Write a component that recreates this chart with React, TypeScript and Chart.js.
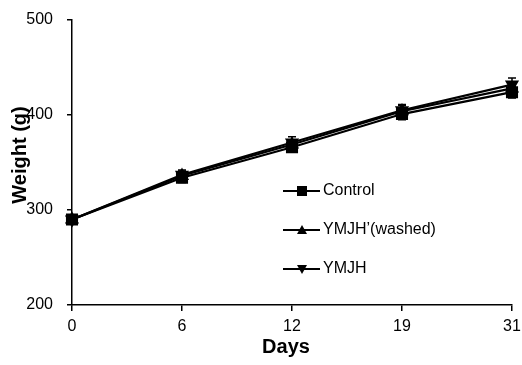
import React, { useEffect, useRef } from "react";
import { Chart, registerables } from "chart.js";

Chart.register(...registerables);

const days = ["0", "6", "12", "19", "31"];
const controlValues = [290, 334, 366, 401, 424];
const washedValues = [290, 336, 369, 404, 428];
const ymjhValues = [290, 337, 371, 405, 432];
const controlErr = [4, 5, 5, 6, 6];
const washedErr = [4, 5, 5, 6, 6];
const ymjhErr = [4, 5, 6, 6, 7];
const seriesLabels = ["Control", "YMJH\u2019(washed)", "YMJH"];
const yTicks = [200, 300, 400, 500];
const xTitle = "Days";
const yTitle = "Weight (g)";

const FONT = "'Liberation Sans', Arial, sans-serif";

const errorBarPlugin = {
  id: "errorBars",
  afterDatasetsDraw(chart: any) {
    const ctx = chart.ctx;
    const yScale = chart.scales.y;
    chart.data.datasets.forEach((ds: any, i: number) => {
      const meta = chart.getDatasetMeta(i);
      const errs: number[] = ds.errors || [];
      meta.data.forEach((pt: any, j: number) => {
        const v = ds.data[j];
        const e = errs[j] || 0;
        const yTop = yScale.getPixelForValue(v + e);
        const yBot = yScale.getPixelForValue(v - e);
        ctx.save();
        ctx.strokeStyle = "#000";
        ctx.lineWidth = 1.5;
        ctx.beginPath();
        ctx.moveTo(pt.x, yTop);
        ctx.lineTo(pt.x, yBot);
        ctx.moveTo(pt.x - 4, yTop);
        ctx.lineTo(pt.x + 4, yTop);
        ctx.moveTo(pt.x - 4, yBot);
        ctx.lineTo(pt.x + 4, yBot);
        ctx.stroke();
        ctx.restore();
      });
    });
  },
};

const titlesPlugin = {
  id: "titles",
  afterDraw(chart: any) {
    const ctx = chart.ctx;
    ctx.save();
    ctx.fillStyle = "#000";
    ctx.font = `bold 20px ${FONT}`;
    ctx.textAlign = "center";
    ctx.textBaseline = "middle";
    ctx.fillText(xTitle, 286, 347);
    ctx.translate(20, 155);
    ctx.rotate(-Math.PI / 2);
    ctx.fillText(yTitle, 0, 0);
    ctx.restore();
  },
};

const customLegendPlugin = {
  id: "customLegend",
  afterDraw(chart: any) {
    const ctx = chart.ctx;
    const x0 = 283;
    const x1 = 320;
    const ys = [191, 230, 269];
    chart.data.datasets.forEach((ds: any, i: number) => {
      const y = ys[i];
      ctx.save();
      ctx.strokeStyle = "#000";
      ctx.fillStyle = "#000";
      ctx.lineWidth = 2;
      ctx.beginPath();
      ctx.moveTo(x0, y);
      ctx.lineTo(x1, y);
      ctx.stroke();
      const cx = 302;
      ctx.beginPath();
      if (ds.pointStyle === "rect") {
        ctx.rect(cx - 5, y - 5, 10, 10);
      } else if (ds.pointRotation === 180) {
        ctx.moveTo(cx - 5, y - 4);
        ctx.lineTo(cx + 5, y - 4);
        ctx.lineTo(cx, y + 5);
        ctx.closePath();
      } else {
        ctx.moveTo(cx - 5, y + 4);
        ctx.lineTo(cx + 5, y + 4);
        ctx.lineTo(cx, y - 5);
        ctx.closePath();
      }
      ctx.fill();
      ctx.font = `16px ${FONT}`;
      ctx.textBaseline = "middle";
      ctx.textAlign = "left";
      ctx.fillText(ds.label, 323, y);
      ctx.restore();
    });
  },
};

export default function App() {
  const ref = useRef<HTMLCanvasElement | null>(null);
  useEffect(() => {
    document.body.style.margin = "0";
    const canvas = ref.current;
    if (!canvas) return;
    const mk = (label: string, data: number[], errors: number[], style: string, rot: number, radius: number) => ({
      label,
      data,
      errors,
      borderColor: "#000",
      backgroundColor: "#000",
      borderWidth: 2.2,
      pointStyle: style,
      pointRotation: rot,
      pointRadius: radius,
      pointBackgroundColor: "#000",
      pointBorderColor: "#000",
      tension: 0,
      fill: false,
    });
    const chart = new Chart(canvas, {
      type: "line",
      data: {
        labels: days,
        datasets: [
          mk(seriesLabels[0], controlValues, controlErr, "rect", 0, 7) as any,
          mk(seriesLabels[1], washedValues, washedErr, "triangle", 0, 6) as any,
          mk(seriesLabels[2], ymjhValues, ymjhErr, "triangle", 180, 6) as any,
        ],
      },
      options: {
        animation: false,
        responsive: false,
        maintainAspectRatio: false,
        layout: { padding: { left: 0, top: 20, right: 10, bottom: 0 } },
        plugins: {
          legend: { display: false },
          tooltip: { enabled: false },
        },
        scales: {
          x: {
            type: "category",
            offset: false,
            grid: { drawOnChartArea: false, drawTicks: true, tickLength: 6, color: "#000", lineWidth: 1.5 },
            border: { display: true, color: "#000", width: 1.5 },
            ticks: { color: "#000", font: { family: FONT, size: 16 }, padding: 6, maxRotation: 0 },
            title: { display: false },
            afterFit: (s: any) => {
              s.height = 60;
              s.paddingLeft = 0;
              s.paddingRight = 0;
            },
          },
          y: {
            min: 200,
            max: 500,
            afterBuildTicks: (s: any) => {
              s.ticks = yTicks.map((v) => ({ value: v }));
            },
            grid: { drawOnChartArea: false, drawTicks: true, tickLength: 5, color: "#000", lineWidth: 1.5 },
            border: { display: true, color: "#000", width: 1.5 },
            ticks: { color: "#000", font: { family: FONT, size: 16 }, padding: 14 },
            title: { display: false },
            afterFit: (s: any) => {
              s.width = 72;
              s.paddingTop = 0;
              s.paddingBottom = 0;
            },
          },
        },
      },
      plugins: [errorBarPlugin, customLegendPlugin, titlesPlugin],
    });
    return () => chart.destroy();
  }, []);
  return (
    <div style={{ width: 522, height: 365, background: "#fff" }}>
      <canvas ref={ref} width={522} height={365} style={{ display: "block" }} />
    </div>
  );
}
